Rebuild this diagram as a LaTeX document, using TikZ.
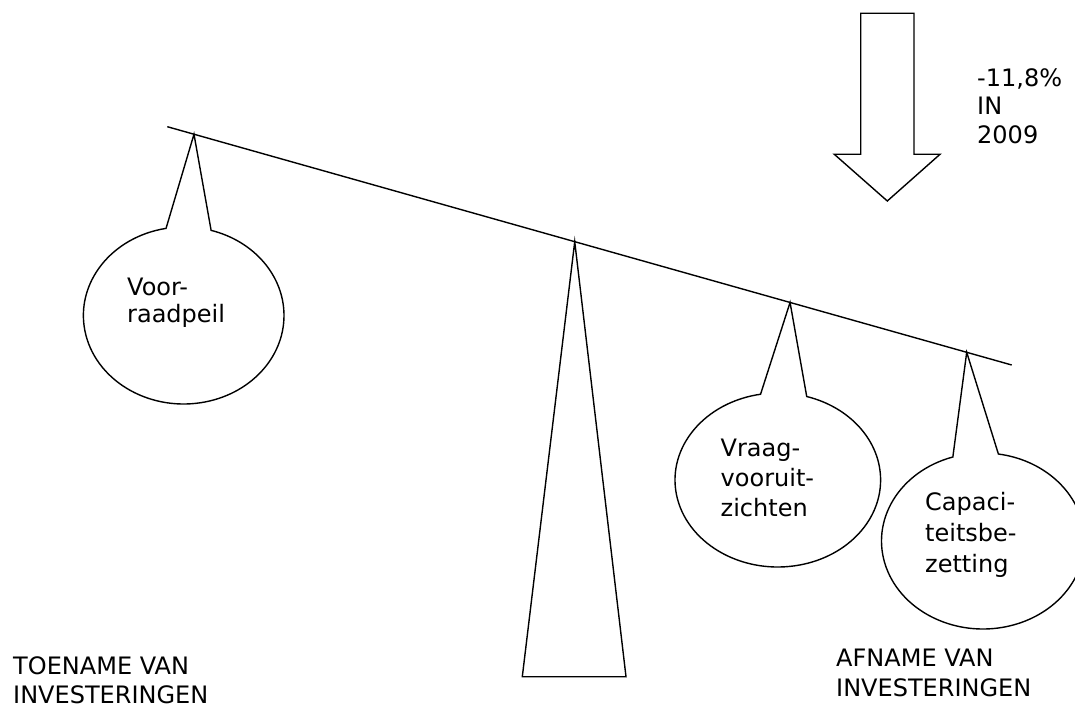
\documentclass[tikz,border=0pt]{standalone}
\usepackage{fontspec}
\setmainfont{DejaVu Sans}
\usetikzlibrary{calc,shapes.callouts}
\begin{document}
\begin{tikzpicture}[x=1pt,y=-1pt,
  outline/.style={draw=black,line width=1.4pt,line join=miter},
  bubble/.style={ellipse callout,outline,inner sep=0pt,callout pointer arc=26},
  lbl/.style={inner sep=0pt,anchor=base west,font=\fontsize{24}{29}\selectfont}]
\useasboundingbox (0,0) rectangle (1075,708);

% the tilted beam of the balance
\coordinate (bl) at (167.3,126.7);
\coordinate (br) at (1011.7,365);
\draw[outline] (bl) -- (br);

% points on the beam where the weights hang and where it rests
\coordinate (pVoor)  at ($(bl)!0.0316!(br)$);
\coordinate (pTop)   at ($(bl)!0.4825!(br)$);
\coordinate (pVraag) at ($(bl)!0.7375!(br)$);
\coordinate (pCap)   at ($(bl)!0.9467!(br)$);

% fulcrum
\coordinate (fl) at (522.3,676.7);
\coordinate (fr) at (626,676.7);
\draw[outline] (pTop) -- (fl) -- (fr) -- cycle;

% hanging speech bubbles
\node[bubble,minimum width=200.6pt,minimum height=177pt,
      callout absolute pointer={(pVoor)}] (bVoor) at (183.7,315.5) {};
\node[bubble,minimum width=205.6pt,minimum height=174pt,
      callout absolute pointer={(pVraag)}] (bVraag) at (777.8,480) {};
\node[bubble,minimum width=203pt,minimum height=176pt,
      callout absolute pointer={(pCap)}] (bCap) at (983,541) {};

% texts in the bubbles
\node[lbl] (tVoor) at (127,295)
  {\vtop{\baselineskip=28pt\hbox{Voor-}\hbox{raadpeil}}};
\node[lbl] (tVraag) at (720.5,456.7)
  {\vtop{\baselineskip=30pt\hbox{Vraag-}\hbox{vooruit-}\hbox{zichten}}};
\node[lbl] (tCap) at (925,510)
  {\vtop{\baselineskip=31pt\hbox{Capaci-}\hbox{teitsbe-}\hbox{zetting}}};

% downward arrow
\coordinate (aTip) at (887.3,201);
\draw[outline] (860.7,13.3) -- (914,13.3) -- (914,154.3) -- (940,154.3)
  -- (aTip) -- (834.3,154.3) -- (860.7,154.3) -- cycle;
\node[lbl] (tPct) at (977,86.7)
  {\vtop{\baselineskip=28.3pt\hbox{-11,8\%}\hbox{IN}\hbox{2009}}};

% captions under both ends
\node[lbl] (tToe) at (13,674)
  {\vtop{\baselineskip=29pt\hbox{TOENAME VAN}\hbox{INVESTERINGEN}}};
\node[lbl] (tAf) at (836,666.7)
  {\vtop{\baselineskip=30pt\hbox{AFNAME VAN}\hbox{INVESTERINGEN}}};
\end{tikzpicture}
\end{document}
